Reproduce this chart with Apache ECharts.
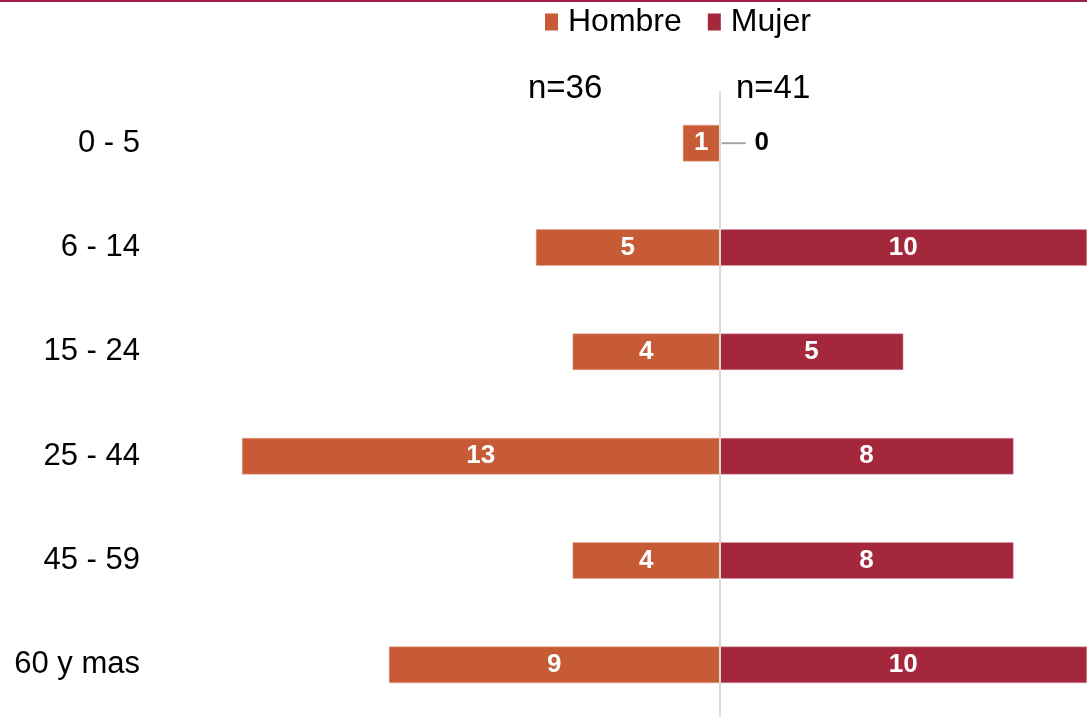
<!DOCTYPE html>
<html>
<head>
<meta charset="utf-8">
<script src="https://cdn.jsdelivr.net/npm/echarts@6/dist/echarts.min.js"></script>
<style>
  html, body { margin: 0; padding: 0; background: #fff; }
  #main { width: 1087px; height: 717px; }
</style>
</head>
<body>
<div id="main"></div>
<script>
// edades (de arriba hacia abajo)
var categorias = ['0 - 5', '6 - 14', '15 - 24', '25 - 44', '45 - 59', '60 y mas'];
var hombre = [1, 5, 4, 13, 4, 9];
var mujer = [0, 10, 5, 8, 8, 10];
var totales = ['n=36', 'n=41'];

var chart = echarts.init(document.getElementById('main'));

var fuente = 'Liberation Sans, Arial, sans-serif';

// Hombre va hacia la izquierda
var hombreNeg = hombre.map(function (v) { return -v; });
// el cero de Mujer va fuera de la barra con una linea guia
var mujerData = mujer.map(function (v) {
    if (v === 0) {
        return {
            value: v,
            label: {
                position: 'inside',
                align: 'left',
                color: '#000',
                padding: [0, 0, 0, 2],
                formatter: '{guia|}{num|0}',
                rich: {
                    guia: { width: 24, height: 2, backgroundColor: '#a6a6a6', verticalAlign: 'middle' },
                    num: { fontFamily: fuente, fontWeight: 'bold', fontSize: 26, color: '#000', padding: [0, 0, 0, 9] }
                }
            }
        };
    }
    return v;
});

var option = {
    animation: false,
    legend: {
        top: 1,
        left: 540,
        itemWidth: 13,
        itemHeight: 17,
        itemGap: 26,
        icon: 'rect',
        itemStyle: { borderWidth: 0 },
        textStyle: { fontFamily: fuente, fontSize: 32, color: '#000', padding: [0, 0, 0, 5] },
        data: ['Hombre', 'Mujer']
    },
    graphic: [
        { type: 'rect', left: 0, top: 0, shape: { width: 1087, height: 2 }, style: { fill: '#9c1c4f' } },
        { type: 'text', left: 528, top: 72, style: { text: totales[0], font: '33px ' + fuente, fill: '#000' } },
        { type: 'text', left: 736, top: 72, style: { text: totales[1], font: '33px ' + fuente, fill: '#000' } }
    ],
    grid: { left: 242, top: 91, width: 849, height: 627 },
    xAxis: {
        type: 'value',
        min: -13,
        max: 10,
        show: false
    },
    yAxis: {
        type: 'category',
        inverse: true,
        data: categorias,
        axisLine: { show: false },
        axisTick: { show: false },
        axisLabel: { margin: 102, fontFamily: fuente, fontSize: 31, color: '#000' }
    },
    series: [
        {
            name: 'Hombre',
            type: 'bar',
            barWidth: '35%',
            barGap: '-100%',
            itemStyle: { color: '#c65b35', borderColor: '#e4a996', borderWidth: 0.5 },
            label: {
                show: true,
                position: 'inside',
                color: '#fff',
                fontFamily: fuente,
                fontWeight: 'bold',
                fontSize: 26,
                formatter: function (p) { return Math.abs(p.value); }
            },
            data: hombreNeg,
            markLine: {
                silent: true,
                symbol: 'none',
                label: { show: false },
                lineStyle: { color: '#d9d9d9', width: 2, type: 'solid' },
                data: [{ xAxis: 0 }]
            }
        },
        {
            name: 'Mujer',
            type: 'bar',
            barWidth: '35%',
            barGap: '-100%',
            itemStyle: { color: '#a4273c', borderColor: '#d59aa4', borderWidth: 0.5 },
            label: {
                show: true,
                position: 'inside',
                color: '#fff',
                fontFamily: fuente,
                fontWeight: 'bold',
                fontSize: 26
            },
            data: mujerData
        }
    ]
};

chart.setOption(option);
</script>
</body>
</html>
